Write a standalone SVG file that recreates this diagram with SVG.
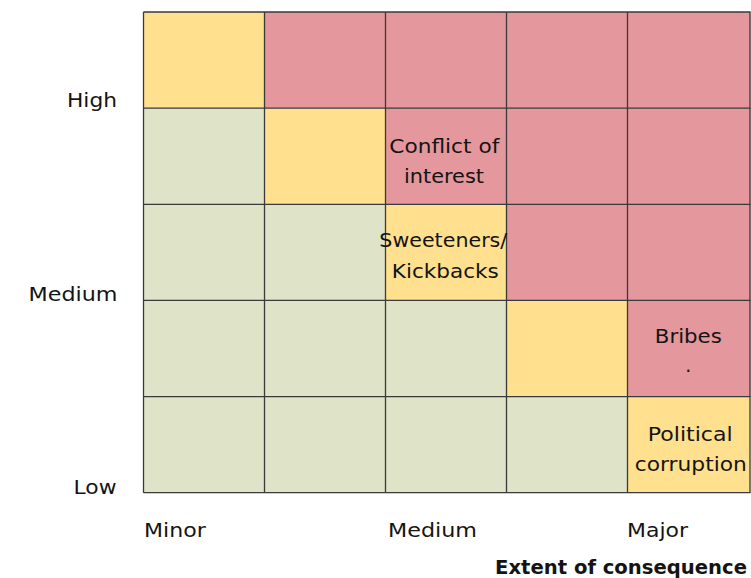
<svg xmlns="http://www.w3.org/2000/svg" width="751" height="578" viewBox="0 0 751 578">
  <style>
    .y { fill: #FFE08F; }
    .r { fill: #E4979C; }
    .g { fill: #DFE3C7; }
    .grid { stroke: #3a3a3a; stroke-width: 1.3; fill: none; }
    text { font-family: "DejaVu Sans", "Liberation Sans", sans-serif; font-size: 19px; fill: #141414; }
    .c { text-anchor: middle; }
    .e { text-anchor: end; }
    .b { font-weight: bold; }
  </style>
  <rect width="751" height="578" fill="#ffffff"/>

  <!-- risk matrix cells: rows top (high likelihood) to bottom, columns minor to major -->
  <g id="cells">
    <g id="row1">
      <rect class="y" x="143.5" y="12" width="121" height="96.2"/>
      <rect class="r" x="264.5" y="12" width="121" height="96.2"/>
      <rect class="r" x="385.5" y="12" width="121" height="96.2"/>
      <rect class="r" x="506.5" y="12" width="121" height="96.2"/>
      <rect class="r" x="627.5" y="12" width="123" height="96.2"/>
    </g>
    <g id="row2">
      <rect class="g" x="143.5" y="108.2" width="121" height="96.1"/>
      <rect class="y" x="264.5" y="108.2" width="121" height="96.1"/>
      <rect class="r" x="385.5" y="108.2" width="121" height="96.1"/>
      <rect class="r" x="506.5" y="108.2" width="121" height="96.1"/>
      <rect class="r" x="627.5" y="108.2" width="123" height="96.1"/>
    </g>
    <g id="row3">
      <rect class="g" x="143.5" y="204.3" width="121" height="96.1"/>
      <rect class="g" x="264.5" y="204.3" width="121" height="96.1"/>
      <rect class="y" x="385.5" y="204.3" width="121" height="96.1"/>
      <rect class="r" x="506.5" y="204.3" width="121" height="96.1"/>
      <rect class="r" x="627.5" y="204.3" width="123" height="96.1"/>
    </g>
    <g id="row4">
      <rect class="g" x="143.5" y="300.4" width="121" height="96.2"/>
      <rect class="g" x="264.5" y="300.4" width="121" height="96.2"/>
      <rect class="g" x="385.5" y="300.4" width="121" height="96.2"/>
      <rect class="y" x="506.5" y="300.4" width="121" height="96.2"/>
      <rect class="r" x="627.5" y="300.4" width="123" height="96.2"/>
    </g>
    <g id="row5">
      <rect class="g" x="143.5" y="396.6" width="121" height="96.1"/>
      <rect class="g" x="264.5" y="396.6" width="121" height="96.1"/>
      <rect class="g" x="385.5" y="396.6" width="121" height="96.1"/>
      <rect class="g" x="506.5" y="396.6" width="121" height="96.1"/>
      <rect class="y" x="627.5" y="396.6" width="123" height="96.1"/>
    </g>
  </g>

  <!-- grid lines -->
  <g id="gridlines" class="grid">
    <path d="M143.5 12 V492.7 M264.5 12 V492.7 M385.5 12 V492.7 M506.5 12 V492.7 M627.5 12 V492.7 M750 12 V492.7"/>
    <path d="M143.5 12 H750.5 M143.5 108.2 H750.5 M143.5 204.3 H750.5 M143.5 300.4 H750.5 M143.5 396.6 H750.5 M143.5 492.7 H750.5"/>
  </g>

  <!-- risk labels -->
  <g id="conflict-of-interest">
    <text class="c" x="444.3" y="153" textLength="110" lengthAdjust="spacingAndGlyphs">Conflict of</text>
    <text class="c" x="444" y="182.5" textLength="80" lengthAdjust="spacingAndGlyphs">interest</text>
  </g>
  <g id="sweeteners-kickbacks">
    <text class="c" x="443.3" y="247" textLength="128" lengthAdjust="spacingAndGlyphs">Sweeteners/</text>
    <text class="c" x="445.3" y="277.5" textLength="107" lengthAdjust="spacingAndGlyphs">Kickbacks</text>
  </g>
  <g id="bribes">
    <text class="c" x="688.3" y="342.5" textLength="67" lengthAdjust="spacingAndGlyphs">Bribes</text>
    <text class="c" x="688.3" y="371.5">.</text>
  </g>
  <g id="political-corruption">
    <text class="c" x="690.2" y="441" textLength="85" lengthAdjust="spacingAndGlyphs">Political</text>
    <text class="c" x="690.8" y="470.5" textLength="112" lengthAdjust="spacingAndGlyphs">corruption</text>
  </g>

  <!-- likelihood axis -->
  <g id="y-axis">
    <text class="e" x="117" y="106.7" textLength="50" lengthAdjust="spacingAndGlyphs">High</text>
    <text class="e" x="117.5" y="301.2" textLength="89" lengthAdjust="spacingAndGlyphs">Medium</text>
    <text class="e" x="116.5" y="493.5" textLength="43" lengthAdjust="spacingAndGlyphs">Low</text>
  </g>

  <!-- consequence axis -->
  <g id="x-axis">
    <text x="144" y="537" textLength="61.7" lengthAdjust="spacingAndGlyphs">Minor</text>
    <text x="388" y="537" textLength="89" lengthAdjust="spacingAndGlyphs">Medium</text>
    <text x="627" y="537" textLength="61" lengthAdjust="spacingAndGlyphs">Major</text>
    <text class="b" x="495" y="573.5" textLength="252" lengthAdjust="spacingAndGlyphs">Extent of consequence</text>
  </g>
</svg>
